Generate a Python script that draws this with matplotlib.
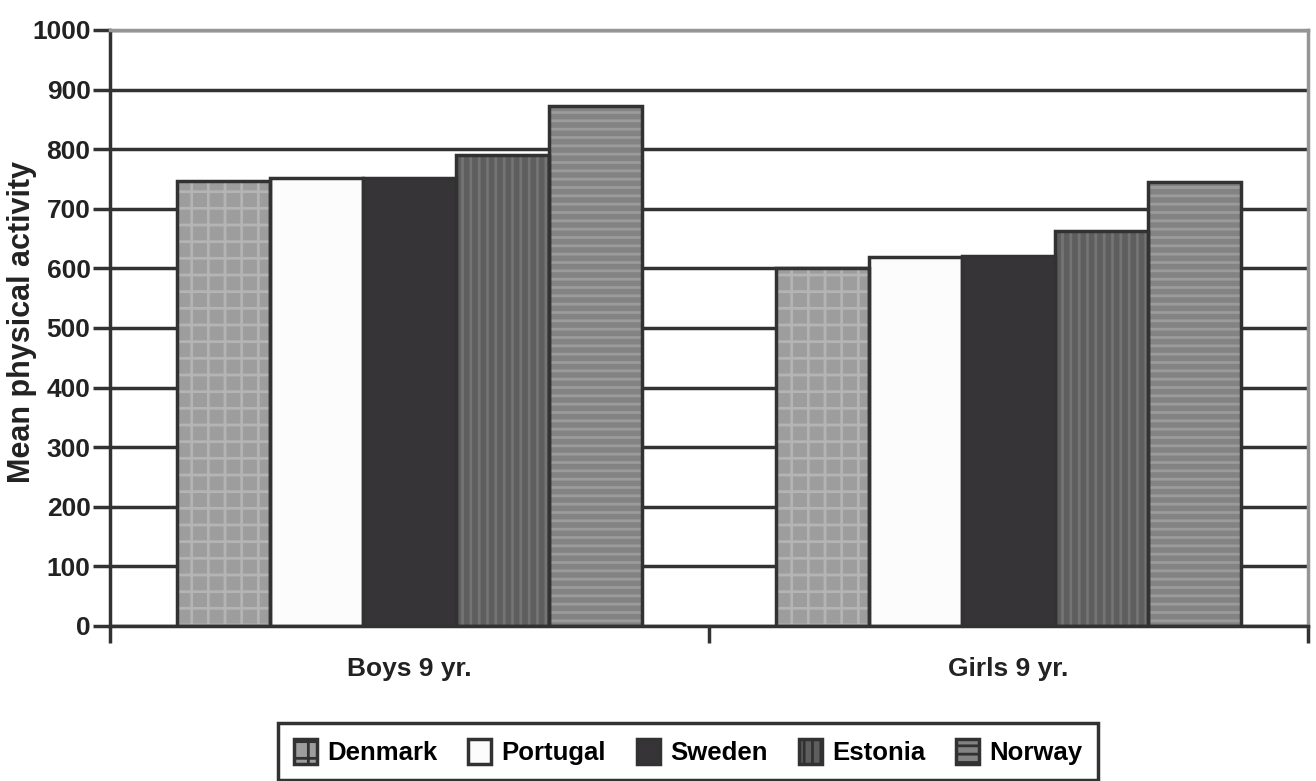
import matplotlib
matplotlib.use("Agg")
from matplotlib import pyplot as plt
import numpy as np

# data
groups = ["Boys 9 yr.", "Girls 9 yr."]
countries = ["Denmark", "Portugal", "Sweden", "Estonia", "Norway"]
denmark = [746, 601]
portugal = [752, 619]
sweden = [752, 620]
estonia = [790, 663]
norway = [873, 745]
yticks = list(range(0, 1001, 100))

series = [denmark, portugal, sweden, estonia, norway]
# fill, hatch colour, hatch pattern
styles = [
    ("#9d9d9d", "#b4b4b4", "+"),
    ("#fcfcfc", "#fcfcfc", ""),
    ("#363436", "#363436", ""),
    ("#5e5e5e", "#747474", "||"),
    ("#838383", "#9b9b9b", "--"),
]
dark = "#333233"
txt = "#222222"

plt.rcParams["font.family"] = ["Liberation Sans", "DejaVu Sans"]
plt.rcParams["font.weight"] = "bold"
plt.rcParams["hatch.linewidth"] = 2.0

fig = plt.figure(figsize=(13.16, 7.81), dpi=100)
ax = fig.add_axes([0.0836, 0.1985, 0.9104, 0.7631])

x = np.arange(len(groups))
w = 0.155
handles = []
for i, vals in enumerate(series):
    face, hc, hatch = styles[i]
    pos = x + (i - 2) * w
    h = ax.bar(pos, vals, w, color=face, edgecolor=hc, hatch=hatch,
               linewidth=0, label=countries[i], zorder=2)
    ax.bar(pos, vals, w, fill=False, edgecolor=dark, linewidth=2.5, zorder=3)
    handles.append(h)

ax.set_xlim(-0.5, 1.5)
ax.set_ylim(0, 1000)
ax.set_yticks(yticks)
ax.set_yticklabels([str(v) for v in yticks], fontsize=19, color=txt)
ax.yaxis.grid(True, color=dark, linewidth=2.5)
ax.set_axisbelow(True)

# boundary ticks, and labels in the middle of each group
ax.set_xticks([-0.5, 0.5, 1.5])
ax.set_xticklabels(["", "", ""])
ax.set_xticks(x, minor=True)
ax.set_xticklabels(groups, minor=True, fontsize=19, color=txt)
ax.tick_params(axis="x", which="major", length=12, width=2.5, color=dark)
ax.tick_params(axis="x", which="minor", length=0, pad=22)
ax.tick_params(axis="y", length=12, width=2.5, color=dark, pad=2)

for s in ["left", "bottom"]:
    ax.spines[s].set_color(dark)
    ax.spines[s].set_linewidth(2.5)
for s in ["top", "right"]:
    ax.spines[s].set_color("#959595")
    ax.spines[s].set_linewidth(2.5)

ax.set_ylabel("Mean physical activity", fontsize=22, fontweight="bold", color=txt)
ax.yaxis.set_label_coords(-0.061, 0.51)

leg = ax.legend(handles=handles, loc="upper center", bbox_to_anchor=(0.4825, -0.163),
                ncol=5, frameon=True, fancybox=False, fontsize=18.5, framealpha=1,
                handlelength=0.9, handleheight=1.15, columnspacing=1.2,
                handletextpad=0.4, borderpad=0.6, borderaxespad=0)
leg.get_frame().set_edgecolor(dark)
leg.get_frame().set_linewidth(2.5)
for p in leg.get_patches():
    p.set_edgecolor(dark)
    p.set_linewidth(2.5)

fig.savefig("out.png", dpi=100)
